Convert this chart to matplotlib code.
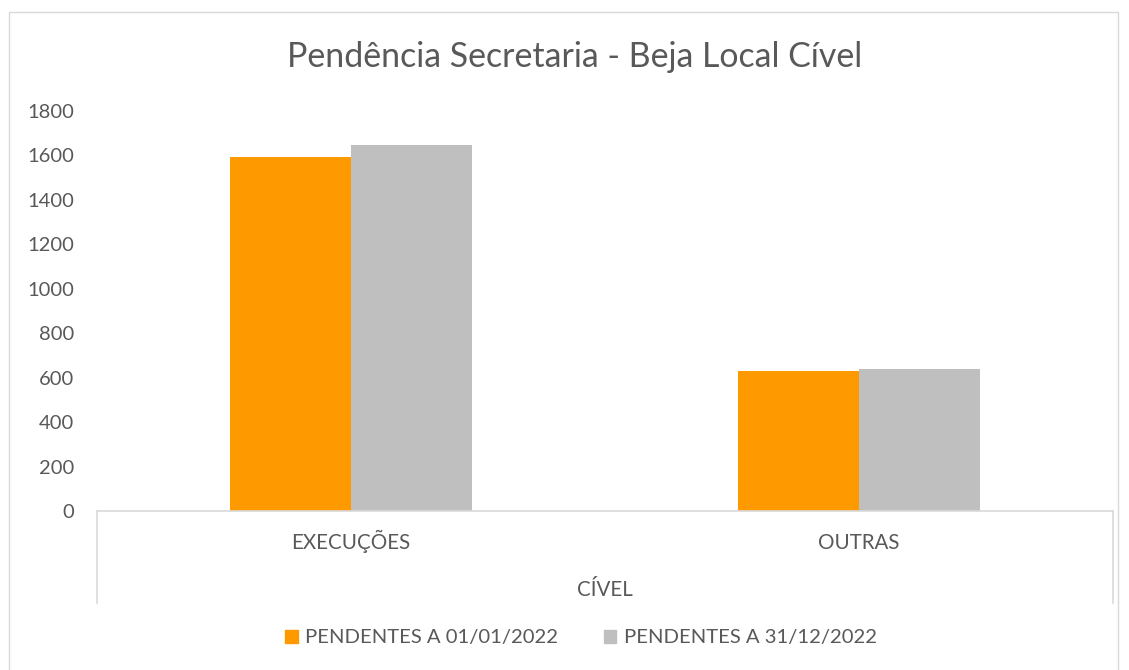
import numpy as np
import matplotlib.pyplot as plt
from matplotlib.patches import Rectangle
from matplotlib.lines import Line2D

plt.rcParams['font.family'] = ['Lato', 'DejaVu Sans']

# Data
categories = ['EXECUÇÕES', 'OUTRAS']
group_label = 'CÍVEL'
series_names = ['PENDENTES A 01/01/2022', 'PENDENTES A 31/12/2022']
pend_inicio = [1593, 632]
pend_fim = [1648, 640]
colors = ['#ff9900', '#bfbfbf']

text_color = '#595959'
line_color = '#d9d9d9'

W, H = 1129, 670
fig = plt.figure(figsize=(W / 100, H / 100), dpi=100)

# outer chart border
fig.add_artist(Rectangle((9 / W, -0.01), (1118 - 9) / W, (H - 12) / H + 0.01,
                         transform=fig.transFigure, fill=False,
                         edgecolor=line_color, linewidth=1))

ax = fig.add_axes([97 / W, (H - 511) / H, (1113 - 97) / W, 400 / H])

x = np.arange(len(categories))
width = 0.238
ax.bar(x - width / 2, pend_inicio, width, color=colors[0], label=series_names[0])
ax.bar(x + width / 2, pend_fim, width, color=colors[1], label=series_names[1])

ax.set_xlim(-0.5, len(categories) - 0.5)
ax.set_ylim(0, 1800)
ax.set_yticks(np.arange(0, 1801, 200))
ax.tick_params(axis='y', length=0, labelsize=14.5, labelcolor=text_color, pad=16.5)
ax.set_xticks([])

for s in ['top', 'right', 'left']:
    ax.spines[s].set_visible(False)
ax.spines['bottom'].set_color(line_color)
ax.spines['bottom'].set_linewidth(1.2)

# multi-level axis: category labels, group label and separators
ax_h = 400
drop = (603 - 511) / ax_h
for xp in [0, 1]:
    ax.add_line(Line2D([xp, xp], [0, -drop], transform=ax.transAxes,
                       color=line_color, linewidth=1.2, clip_on=False))

trans = ax.get_xaxis_transform()
for xi, cat in zip(x, categories):
    ax.text(xi, -(549 - 511) / ax_h, cat, transform=trans,
            ha='center', va='baseline', fontsize=14.8, color=text_color)

ax.text(0.5, -(596 - 511) / ax_h, group_label, transform=ax.transAxes,
        ha='center', va='baseline', fontsize=14.8, color=text_color)

fig.text(575 / W, 1 - 57 / H, 'Pendência Secretaria - Beja Local Cível',
         ha='center', va='center', fontsize=24.4, color=text_color)

handles = [Rectangle((0, 0), 1, 1, color=c) for c in colors]
fig.legend(handles, series_names, loc='center', bbox_to_anchor=(581 / W, 1 - 638 / H),
           ncol=2, frameon=False, fontsize=14.6, labelcolor=text_color,
           handlelength=0.6, handleheight=0.6, handletextpad=0.35, columnspacing=2.3)

fig.savefig('out.png', dpi=100)
